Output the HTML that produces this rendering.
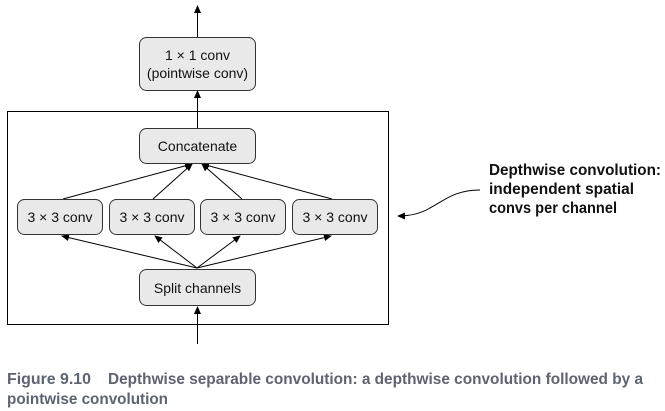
<!DOCTYPE html>
<html><head><style>
body{margin:0;background:#fff;width:665px;height:411px;overflow:hidden;position:relative}
</style></head><body>
<svg width="665" height="411" style="position:absolute;left:0;top:0" font-family="Liberation Sans, sans-serif">
<defs><marker id="a" markerWidth="8" markerHeight="8" refX="7" refY="4" orient="auto" markerUnits="userSpaceOnUse"><path d="M0,0.5 L8,4 L0,7.5z" fill="#000"/></marker></defs>
<g stroke="#000" stroke-width="1" fill="none">
<rect x="7.5" y="111.5" width="381" height="213"/>
<line x1="197.5" y1="37" x2="197.5" y2="6" marker-end="url(#a)"/>
<line x1="197.5" y1="128" x2="197.5" y2="91" marker-end="url(#a)"/>
<line x1="197.5" y1="344" x2="197.5" y2="307" marker-end="url(#a)"/>
<line x1="63" y1="199" x2="192" y2="164" marker-end="url(#a)"/>
<line x1="153" y1="199" x2="192" y2="164" marker-end="url(#a)"/>
<line x1="242" y1="199" x2="202" y2="164" marker-end="url(#a)"/>
<line x1="332" y1="199" x2="202" y2="164" marker-end="url(#a)"/>
<line x1="197" y1="268" x2="62" y2="236" marker-end="url(#a)"/>
<line x1="197" y1="268" x2="155" y2="236" marker-end="url(#a)"/>
<line x1="197" y1="268" x2="240" y2="236" marker-end="url(#a)"/>
<line x1="197" y1="268" x2="331" y2="236" marker-end="url(#a)"/>
<path d="M480,190 C455,190 445,200 430,208 C420,214 410,216 398,216" marker-end="url(#a)"/>
</g>
<g fill="#e9e9e9" stroke="#333" stroke-width="1">
<rect x="139.5" y="37.5" width="116" height="53" rx="7"/>
<rect x="139.5" y="128.5" width="116" height="35" rx="7"/>
<rect x="17.5" y="199.5" width="85" height="35" rx="7"/>
<rect x="109.5" y="199.5" width="85" height="35" rx="7"/>
<rect x="200.5" y="199.5" width="85" height="35" rx="7"/>
<rect x="292.5" y="199.5" width="85" height="35" rx="7"/>
<rect x="139.5" y="269.5" width="116" height="36" rx="7"/>
</g>
<g font-size="14" fill="#111" text-anchor="middle">
<text x="197.5" y="60">1 × 1 conv</text>
<text x="197.5" y="78">(pointwise conv)</text>
<text x="197.5" y="151">Concatenate</text>
<text x="60" y="222">3 × 3 conv</text>
<text x="152" y="222">3 × 3 conv</text>
<text x="243" y="222">3 × 3 conv</text>
<text x="335" y="222">3 × 3 conv</text>
<text x="197.5" y="293">Split channels</text>
</g>
<g font-size="16" font-weight="bold" fill="#111">
<text x="489" y="175" textLength="172" lengthAdjust="spacingAndGlyphs">Depthwise convolution:</text>
<text x="489" y="194" textLength="145" lengthAdjust="spacingAndGlyphs">independent spatial</text>
<text x="489" y="213" textLength="128" lengthAdjust="spacingAndGlyphs">convs per channel</text>
</g>
<g font-size="15.5" font-weight="bold" fill="#5d6370">
<text x="7" y="384" textLength="84" lengthAdjust="spacingAndGlyphs">Figure 9.10</text>
<text x="108" y="384" textLength="535" lengthAdjust="spacingAndGlyphs">Depthwise separable convolution: a depthwise convolution followed by a</text>
<text x="7" y="404" textLength="161" lengthAdjust="spacingAndGlyphs">pointwise convolution</text>
</g>
</svg>
</body></html>
